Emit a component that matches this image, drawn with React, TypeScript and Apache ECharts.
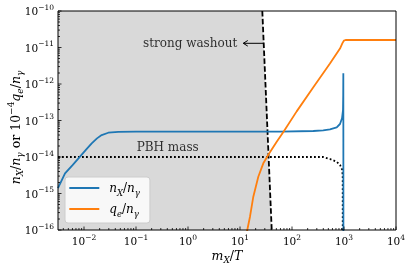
import React, { useEffect, useRef } from "react";
import * as echarts from "echarts";

const FONT = "'DejaVu Serif', 'Liberation Serif', serif";

// axes in log10 space
const xRange = [-2.5, 4];
const yRange = [-16, -10];
const xTickExponents = [-2, -1, 0, 1, 2, 3, 4];
const yTickExponents = [-16, -15, -14, -13, -12, -11, -10];

// curves as [log10(m_X/T), log10(value)]
const nXCurve: number[][] = [
  [-2.5, -14.85], [-2.365, -14.45], [-2.22, -14.22], [-2.077, -13.99], [-1.96, -13.8],
  [-1.852, -13.625], [-1.75, -13.49], [-1.66, -13.4], [-1.533, -13.335], [-1.34, -13.31],
  [-1.0, -13.307], [0, -13.307], [1, -13.307], [1.769, -13.307], [2.41, -13.288],
  [2.6, -13.27], [2.73, -13.241], [2.86, -13.186], [2.923, -13.096], [2.962, -12.94],
  [2.981, -12.712], [2.985, -12.3], [2.987, -11.707], [2.989, -17],
];
const qeCurve: number[][] = [
  [1.13, -16.1], [1.14, -16.0], [1.192, -15.636], [1.256, -15.088], [1.352, -14.54],
  [1.448, -14.173], [1.563, -13.899], [1.706, -13.581], [1.837, -13.307], [2.09, -12.75],
  [2.41, -12.09], [2.73, -11.44], [2.923, -11.03], [2.97, -10.88], [3.0, -10.81],
  [3.03, -10.795], [4.0, -10.795],
];
const pbhMassCurve: number[][] = [
  [-2.5, -14.0], [2.6, -14.0], [2.731, -14.055], [2.86, -14.129], [2.923, -14.219],
  [2.967, -14.356], [2.975, -14.54], [2.976, -16.5],
];
const washoutLine: number[][] = [[1.429, -10], [1.52, -13], [1.61, -16]];
const washoutRegion: number[][] = [[-2.5, -10], [1.429, -10], [1.52, -13], [1.61, -16], [-2.5, -16]];

const seriesNames = ["nX", "qe"];
const annotations = [
  { text: "strong washout", x: 0.948, y: -10.885, side: "left" },
  { text: "PBH mass", x: -0.987, y: -13.718, side: "right" },
];
const arrowSpec = { tailX: 1.448, tipX: 1.063, y: -10.885 };

const BLUE = "#1f77b4";
const ORANGE = "#ff7f0e";

function minorTicks(lo: number, hi: number): number[] {
  const out: number[] = [];
  for (let d = Math.floor(lo) - 1; d <= Math.ceil(hi); d++) {
    for (let k = 2; k <= 9; k++) {
      const v = d + Math.log10(k);
      if (v > lo && v < hi) out.push(v);
    }
  }
  return out;
}

function mathRich(base: number, small: number, lh: number) {
  return {
    r: { fontFamily: FONT, fontSize: base, lineHeight: lh, verticalAlign: "middle", color: "#000" },
    i: { fontFamily: FONT, fontSize: base, lineHeight: lh, verticalAlign: "middle", fontStyle: "italic", color: "#000" },
    sub: { fontFamily: FONT, fontSize: small, lineHeight: lh - 6, verticalAlign: "bottom", fontStyle: "italic", color: "#000" },
    sup: { fontFamily: FONT, fontSize: small, lineHeight: lh - 8, verticalAlign: "top", color: "#000" },
    g: { width: 5, fontSize: base, lineHeight: lh },
  };
}

const expLabel = (v: number) => `{r|10}{sup|${String(v).replace("-", "\u2212")}}`;

export default function App() {
  const ref = useRef<HTMLDivElement>(null);
  useEffect(() => {
    if (!ref.current) return;
    const chart = echarts.init(ref.current, undefined, { renderer: "svg" });
    const tickRich = {
      r: { fontFamily: FONT, fontSize: 10.5, lineHeight: 16, verticalAlign: "middle", color: "#000" },
      sup: { fontFamily: FONT, fontSize: 7.5, lineHeight: 6, verticalAlign: "top", color: "#000" },
    };
    const xMinor = minorTicks(xRange[0], xRange[1]);
    const yMinor = minorTicks(yRange[0], yRange[1]);
    const xTicks = [
      ...xTickExponents.map((v) => [v, yRange[0], 1]),
      ...xMinor.map((v) => [v, yRange[0], 0]),
    ];
    const yTicks = [
      ...yTickExponents.map((v) => [xRange[0], v, 1]),
      ...yMinor.map((v) => [xRange[0], v, 0]),
    ];
    const legendLabels: Record<string, string> = {
      nX: "{g| }{i|n}{sub|X}{r|/}{i|n}{sub|γ}",
      qe: "{g| }{i|q}{sub|e}{r|/}{i|n}{sub|γ}",
    };
    const option: any = {
      animation: false,
      grid: { left: 58, top: 11, right: 15, bottom: 41, outerBoundsMode: "none" },
      xAxis: {
        type: "value",
        min: xRange[0],
        max: xRange[1],
        interval: 0.5,
        axisLine: { show: false },
        axisTick: { show: false },
        splitLine: { show: false },
        axisLabel: {
          interval: 0,
          margin: 3,
          formatter: (v: number) => (Number.isInteger(v) ? expLabel(v) : ""),
          rich: tickRich,
        },
        name: "{i|m}{sub|X}{r|/}{i|T}",
        nameLocation: "middle",
        nameGap: 16,
        nameMoveOverlap: false,
        nameTextStyle: { rich: mathRich(12.5, 9, 18) },
      },
      yAxis: {
        type: "value",
        min: yRange[0],
        max: yRange[1],
        interval: 1,
        axisLine: { show: false },
        axisTick: { show: false },
        splitLine: { show: false },
        axisLabel: {
          margin: 4,
          formatter: (v: number) => expLabel(v),
          rich: tickRich,
        },
        name: "{i|n}{sub|X}{r|/}{i|n}{sub|γ}{r| or 10}{sup|\u22124}{i|q}{sub|e}{r|/}{i|n}{sub|γ}",
        nameLocation: "middle",
        nameRotate: 90,
        nameGap: 34,
        nameMoveOverlap: false,
        nameTextStyle: { rich: mathRich(12.5, 9, 18), padding: [0, 14, 0, 0] },
      },
      legend: {
        data: seriesNames,
        orient: "vertical",
        left: 65,
        top: 177,
        icon: "rect",
        itemWidth: 30,
        itemHeight: 2,
        itemGap: 6,
        padding: [5, 10, 5, 4.3],
        backgroundColor: "rgba(255,255,255,0.8)",
        borderColor: "#cccccc",
        borderWidth: 1,
        borderRadius: 3,
        formatter: (n: string) => legendLabels[n],
        textStyle: { rich: mathRich(12, 8.5, 18) },
      },
      series: [
        {
          type: "custom",
          name: "region",
          silent: true,
          z: 1,
          data: [[xRange[0], yRange[0]]],
          renderItem: (_p: any, api: any) => ({
            type: "polygon",
            shape: { points: washoutRegion.map((pt) => api.coord(pt)) },
            style: { fill: "#d9d9d9", stroke: "none" },
          }),
        },
        {
          type: "line",
          name: "washout",
          data: washoutLine,
          symbol: "none",
          z: 3,
          lineStyle: { color: "#000", width: 1.8, type: [5.5, 2.4] },
          silent: true,
        },
        {
          type: "line",
          name: "pbh",
          data: pbhMassCurve,
          symbol: "none",
          z: 3,
          lineStyle: { color: "#000", width: 1.8, type: [1.8, 2.2] },
          silent: true,
        },
        {
          type: "line",
          name: "nX",
          data: nXCurve,
          symbol: "none",
          z: 4,
          color: BLUE,
          itemStyle: { color: BLUE },
          lineStyle: { color: BLUE, width: 1.8 },
        },
        {
          type: "line",
          name: "qe",
          data: qeCurve,
          symbol: "none",
          z: 4,
          color: ORANGE,
          itemStyle: { color: ORANGE },
          lineStyle: { color: ORANGE, width: 1.8 },
        },
        {
          type: "scatter",
          name: "notes",
          symbolSize: 0,
          silent: true,
          z: 6,
          data: annotations.map((a) => ({
            value: [a.x, a.y],
            label: {
              show: true,
              formatter: a.text,
              position: a.side,
              distance: 0,
              fontFamily: FONT,
              fontSize: 12,
              color: "#000",
            },
          })),
        },
        {
          type: "custom",
          name: "arrow",
          silent: true,
          z: 6,
          data: [[arrowSpec.tailX, arrowSpec.y, arrowSpec.tipX]],
          renderItem: (_p: any, api: any) => {
            const tail = api.coord([api.value(0), api.value(1)]);
            const tip = api.coord([api.value(2), api.value(1)]);
            return {
              type: "group",
              children: [
                { type: "line", shape: { x1: tail[0], y1: tail[1], x2: tip[0], y2: tip[1] }, style: { stroke: "#000", lineWidth: 1 } },
                {
                  type: "polyline",
                  shape: { points: [[tip[0] + 4.5, tip[1] - 2.8], tip, [tip[0] + 4.5, tip[1] + 2.8]] },
                  style: { stroke: "#000", lineWidth: 1, fill: "none" },
                },
              ],
            };
          },
        },
        {
          type: "custom",
          name: "xticks",
          silent: true,
          z: 7,
          data: xTicks,
          renderItem: (_p: any, api: any) => {
            const p = api.coord([api.value(0), api.value(1)]);
            const len = api.value(2) ? 3.5 : 2;
            return { type: "line", shape: { x1: p[0], y1: p[1], x2: p[0], y2: p[1] - len }, style: { stroke: "#000", lineWidth: 0.8 } };
          },
        },
        {
          type: "custom",
          name: "yticks",
          silent: true,
          z: 7,
          data: yTicks,
          renderItem: (_p: any, api: any) => {
            const p = api.coord([api.value(0), api.value(1)]);
            const len = api.value(2) ? 3.5 : 2;
            return { type: "line", shape: { x1: p[0], y1: p[1], x2: p[0] + len, y2: p[1] }, style: { stroke: "#000", lineWidth: 0.8 } };
          },
        },
        {
          type: "custom",
          name: "frame",
          silent: true,
          z: 8,
          data: [[xRange[0], yRange[0]]],
          renderItem: (_p: any, api: any) => {
            const tl = api.coord([xRange[0], yRange[1]]);
            const br = api.coord([xRange[1], yRange[0]]);
            return {
              type: "rect",
              shape: { x: tl[0], y: tl[1], width: br[0] - tl[0], height: br[1] - tl[1] },
              style: { fill: "none", stroke: "#000", lineWidth: 1 },
            };
          },
        },
      ],
    };
    chart.setOption(option);
    return () => chart.dispose();
  }, []);
  return <div ref={ref} style={{ position: "fixed", left: 0, top: 0, width: 411, height: 271 }} />;
}
